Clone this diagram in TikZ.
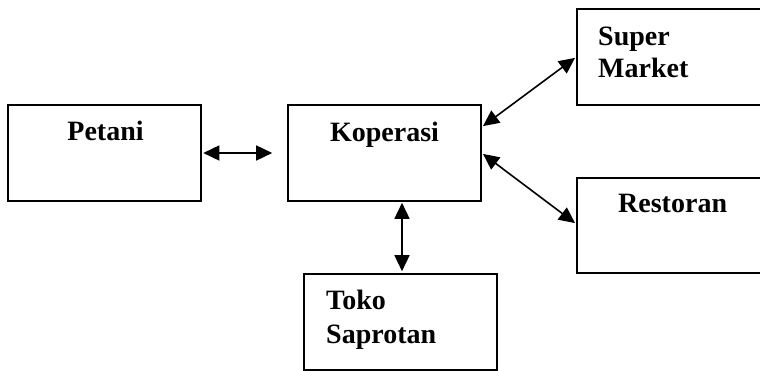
\documentclass[tikz,border=0pt]{standalone}
\usepackage{fontspec}
\setmainfont{Liberation Serif}
\usetikzlibrary{arrows.meta}
\begin{document}
\begin{tikzpicture}[x=1pt,y=-1pt,
  box/.style={draw, line width=1.6pt, minimum width=193pt, minimum height=96pt, inner sep=0pt},
  lbl/.style={font=\fontsize{28}{33}\selectfont\bfseries, inner sep=0pt, anchor=base west},
  bi/.style={line width=1.6pt, {Triangle[length=16pt,width=15pt]}-{Triangle[length=16pt,width=15pt]}}]
\useasboundingbox (0,0) rectangle (760,371);
\clip (0,0) rectangle (760,371);
\node[box] (petani) at (104.5,153) {};
\node[box] (koperasi) at (384.5,153) {};
\node[box, minimum width=210pt] (super) at (682,57) {};
\node[box, minimum width=210pt, minimum height=95pt] (restoran) at (682,225.5) {};
\node[box] (toko) at (400.5,322) {};
\node[lbl, anchor=base] (tpetani) at (105.5,141) {Petani};
\node[lbl, anchor=base] (tkoperasi) at (384.5,142) {Koperasi};
\node[lbl] (tsuper) at (598,46) {Super};
\node[lbl] (tmarket) at (598,78) {Market};
\node[lbl] (trestoran) at (618,213) {Restoran};
\node[lbl] (ttoko) at (326,309) {Toko};
\node[lbl] (tsaprotan) at (326,343) {Saprotan};
\draw[bi, shorten <=1.5pt, shorten >=15pt] (petani.east) -- (koperasi.west);
\draw[bi, shorten <=1.5pt, shorten >=1.5pt] (koperasi.east |- 0,127) -- (super.west |- 0,57);
\draw[bi, shorten <=1.5pt, shorten >=1.5pt] (koperasi.east) -- (restoran.west |- 0,224);
\draw[bi, shorten <=1pt, shorten >=2pt] ([xshift=1.5pt]koperasi.south -| toko.north) -- ([xshift=1.5pt]toko.north);
\end{tikzpicture}
\end{document}
